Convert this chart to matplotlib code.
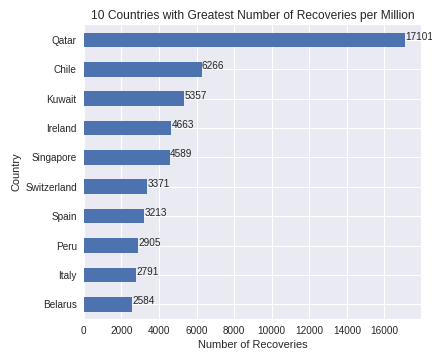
import matplotlib
matplotlib.use('Agg')
import matplotlib.pyplot as plt

# countries ordered bottom -> top
countries = ['Belarus', 'Italy', 'Peru', 'Spain', 'Switzerland',
             'Singapore', 'Ireland', 'Kuwait', 'Chile', 'Qatar']
recoveries = [2584, 2791, 2905, 3213, 3371, 4589, 4663, 5357, 6266, 17101]

plt.style.use('seaborn-v0_8')
plt.rcParams['font.sans-serif'] = ['Liberation Sans', 'DejaVu Sans']

fig, ax = plt.subplots(figsize=(6, 5), dpi=72)
pos = range(len(countries))
ax.barh(pos, recoveries, height=0.5, color='#4C72B0')
ax.set_yticks(list(pos))
ax.set_yticklabels(countries)
ax.set_ylim(-0.5, len(countries) - 0.5)

for i, v in enumerate(recoveries):
    ax.text(v, i, str(v))

ax.set_title('10 Countries with Greatest Number of Recoveries per Million')
ax.set_xlabel('Number of Recoveries')
ax.set_ylabel('Country')
fig.subplots_adjust(left=0.194, right=0.975, top=0.93, bottom=0.114)
plt.savefig('out.png', dpi=72)
